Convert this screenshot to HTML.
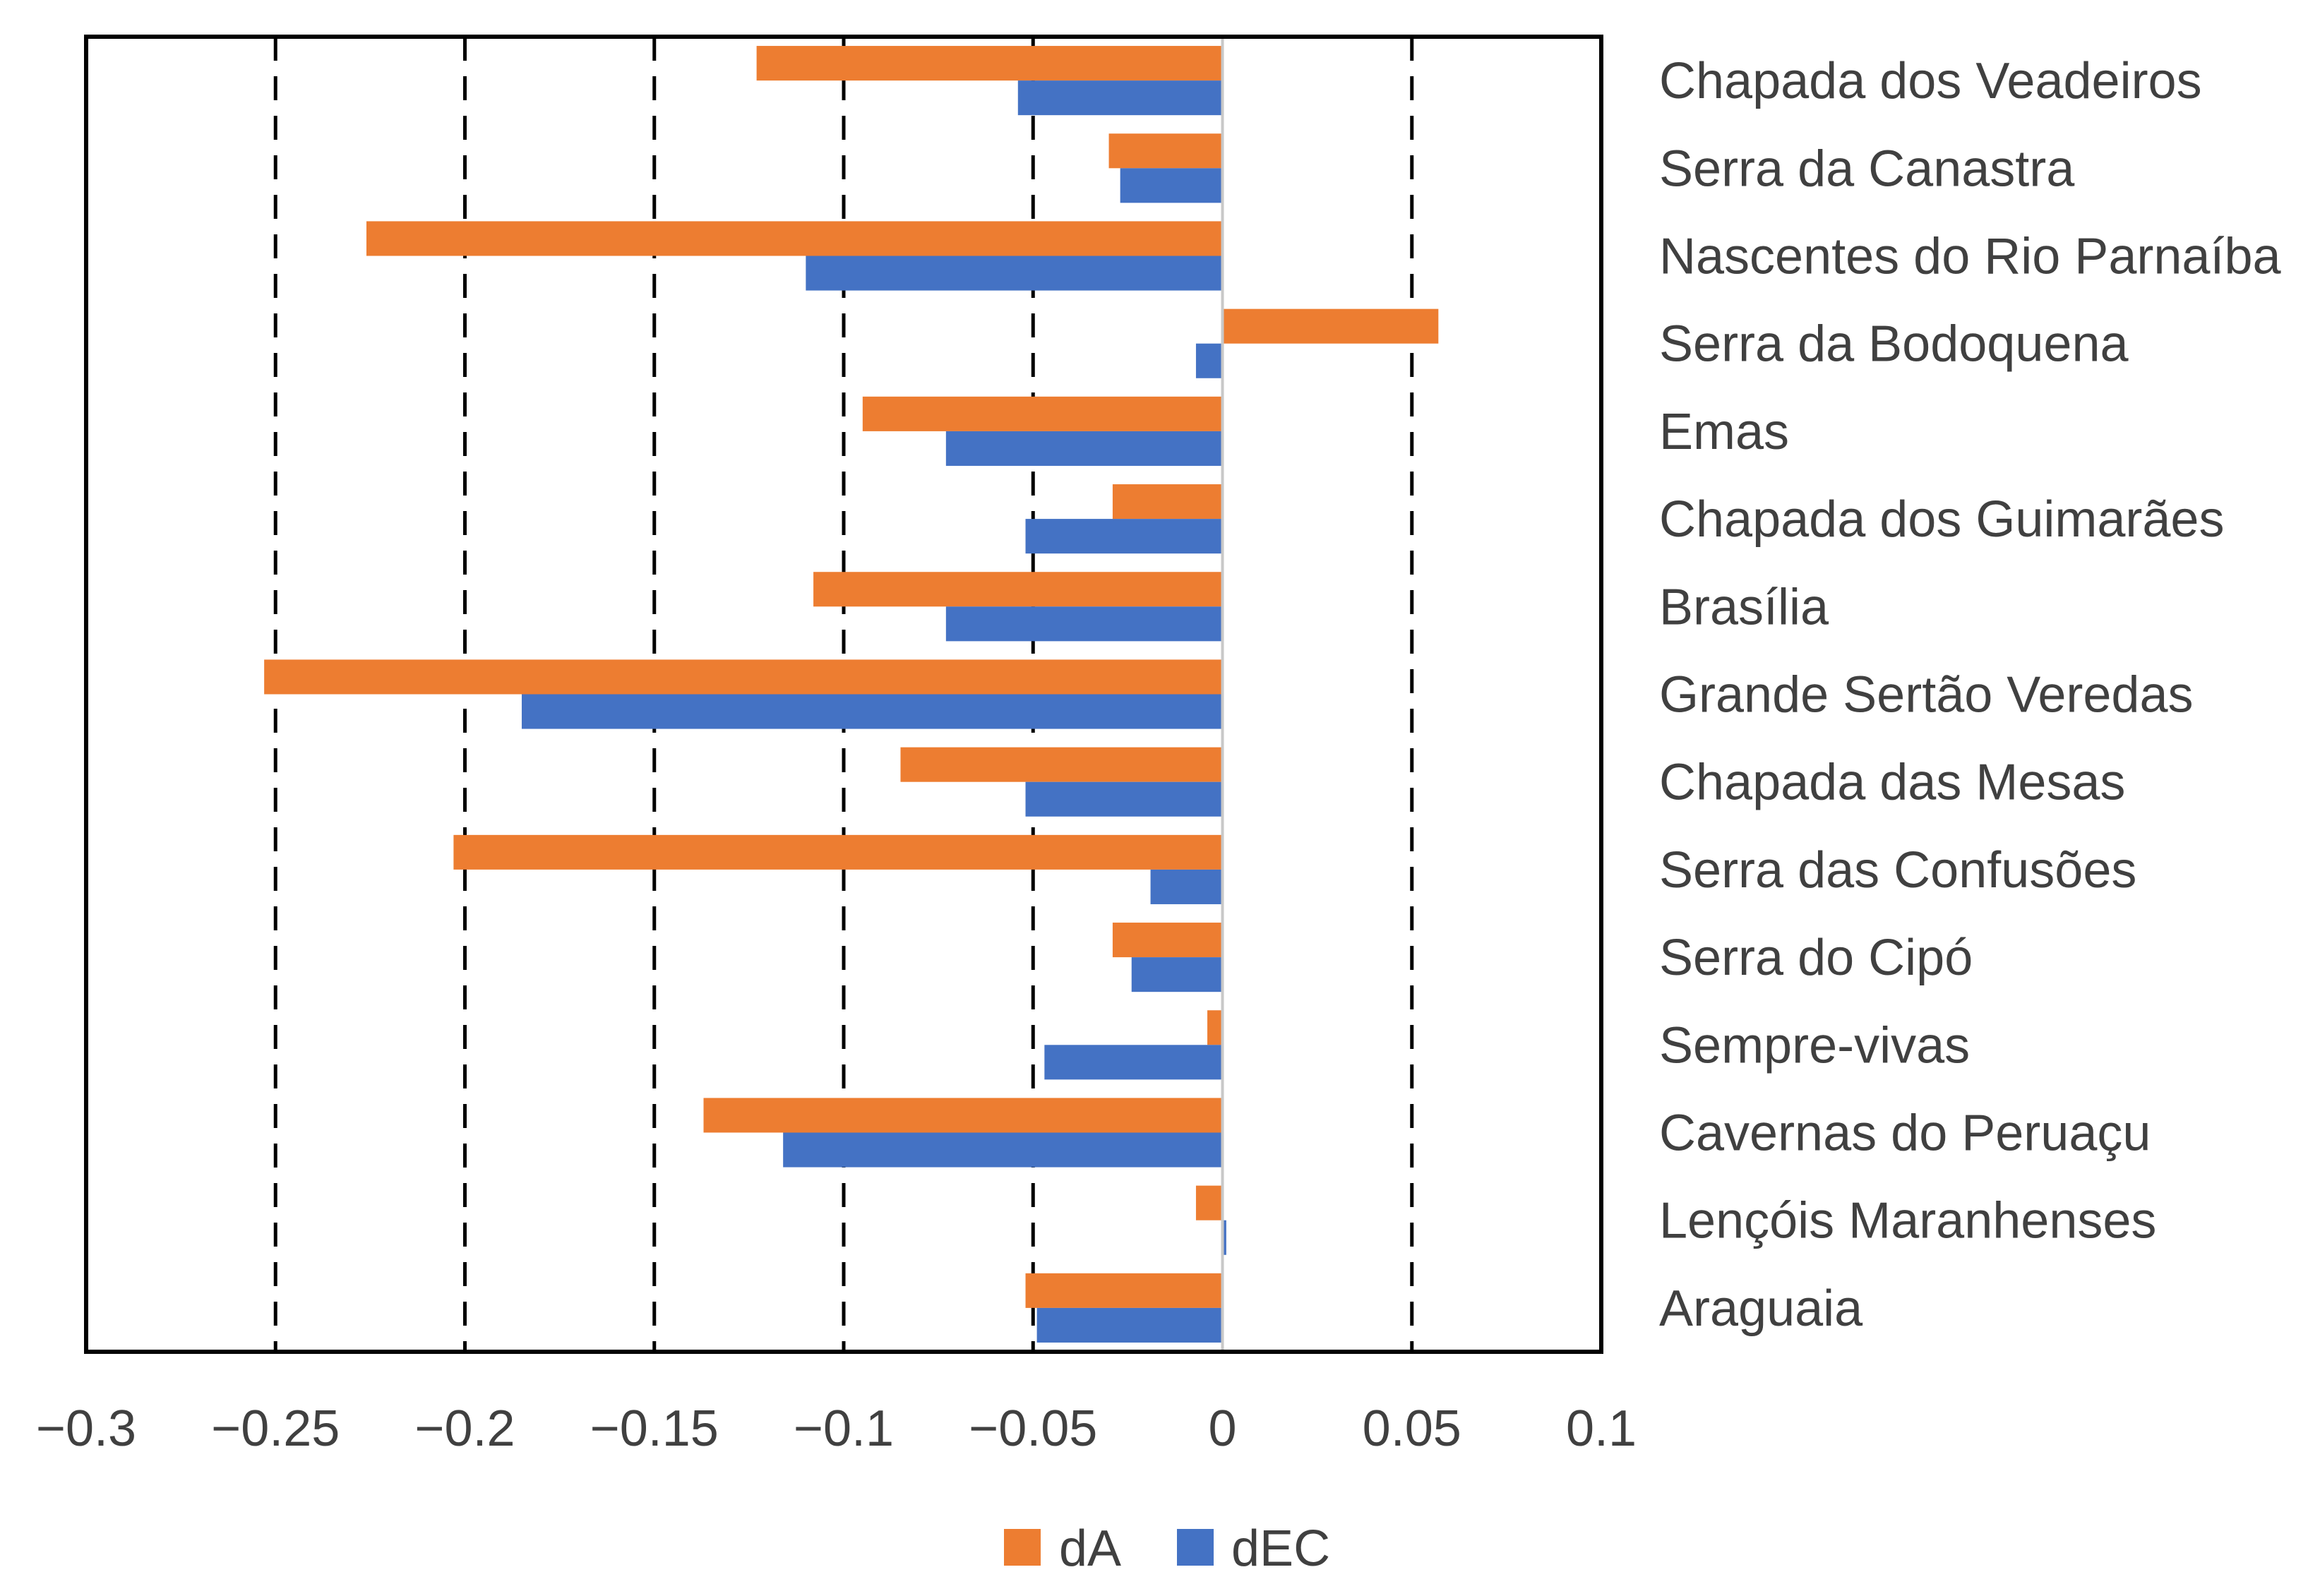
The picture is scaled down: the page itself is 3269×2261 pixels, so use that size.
<!DOCTYPE html>
<html><head><meta charset="utf-8"><style>
html,body{margin:0;padding:0;background:#fff;}
svg{display:block;font-family:"Liberation Sans",sans-serif;}
</style></head><body>
<svg id="chart" width="3269" height="2261" viewBox="0 0 3269 2261" xmlns="http://www.w3.org/2000/svg">
<rect x="0" y="0" width="3269" height="2261" fill="#fff"/>
<g id="grid"></g>
<g id="bars"></g>
<line id="zero" stroke="#c8c8c8" stroke-width="4"/>
<rect id="frame" fill="none" stroke="#000" stroke-width="6"/>
<g id="cats"></g>
<g id="ticks"></g>
<g>
  <rect x="1422" y="2166" width="52" height="52" fill="#ED7D31"/>
  <text x="1500" y="2218" font-size="72" fill="#404040">dA</text>
  <rect x="1667" y="2166" width="52" height="52" fill="#4472C4"/>
  <text x="1744" y="2218" font-size="72" fill="#404040">dEC</text>
</g>
</svg>
<script>
const categories = ["Chapada dos Veadeiros","Serra da Canastra","Nascentes do Rio Parnaíba","Serra da Bodoquena","Emas","Chapada dos Guimarães","Brasília","Grande Sertão Veredas","Chapada das Mesas","Serra das Confusões","Serra do Cipó","Sempre-vivas","Cavernas do Peruaçu","Lençóis Maranhenses","Araguaia"];
const dA = [-0.123,-0.030,-0.226,0.057,-0.095,-0.029,-0.108,-0.253,-0.085,-0.203,-0.029,-0.004,-0.137,-0.007,-0.052];
const dEC = [-0.054,-0.027,-0.110,-0.007,-0.073,-0.052,-0.073,-0.185,-0.052,-0.019,-0.024,-0.047,-0.116,0.001,-0.049];
const tickValues = [-0.3,-0.25,-0.2,-0.15,-0.1,-0.05,0,0.05,0.1];
const tickLabels = ["\u22120.3","\u22120.25","\u22120.2","\u22120.15","\u22120.1","\u22120.05","0","0.05","0.1"];

const NS="http://www.w3.org/2000/svg";
const L=122,R=2268,T=52,B=1915,xmin=-0.3,xmax=0.1;
const x=v=>L+(v-xmin)/(xmax-xmin)*(R-L);
const band=(B-T)/categories.length;
const y=i=>T+i*band;
function mk(tag,attrs,parent){const e=document.createElementNS(NS,tag);for(const k in attrs)e.setAttribute(k,attrs[k]);parent.appendChild(e);return e;}
const grid=document.getElementById('grid'),bars=document.getElementById('bars'),cats=document.getElementById('cats'),ticks=document.getElementById('ticks');
tickValues.forEach((v,i)=>{
  if(v!==0&&v>xmin&&v<xmax){
    const g=mk('line',{x1:x(v),x2:x(v),y1:T,y2:B,stroke:'#000','stroke-width':5,'stroke-dasharray':'34,22'},grid);
    
    
  }
  const t=mk('text',{x:x(v),y:2048,'font-size':72,fill:'#404040','text-anchor':'middle'},ticks);
  t.textContent=tickLabels[i];
  
  
});
const bh=band*0.395,pad=(band-2*bh)/2;
categories.forEach((c,i)=>{
  const a=dA[i],e=dEC[i];
  const r1=mk('rect',{x:Math.min(x(0),x(a)),y:y(i)+pad,width:Math.abs(x(a)-x(0)),height:bh,fill:'#ED7D31'},bars);
  
  
  const r2=mk('rect',{x:Math.min(x(0),x(e)),y:y(i)+pad+bh,width:Math.max(Math.abs(x(e)-x(0)),2),height:bh,fill:'#4472C4'},bars);
  
  
  const t=mk('text',{x:2350,y:y(i)+band/2+25,'font-size':72,fill:'#404040'},cats);
  t.textContent=c;
  
  
});
const z=document.getElementById('zero');
z.setAttribute('x1',x(0));z.setAttribute('x2',x(0));z.setAttribute('y1',T);z.setAttribute('y2',B);
const f=document.getElementById('frame');
f.setAttribute('x',L);f.setAttribute('y',T);f.setAttribute('width',R-L);f.setAttribute('height',B-T);
</script>
</body></html>
